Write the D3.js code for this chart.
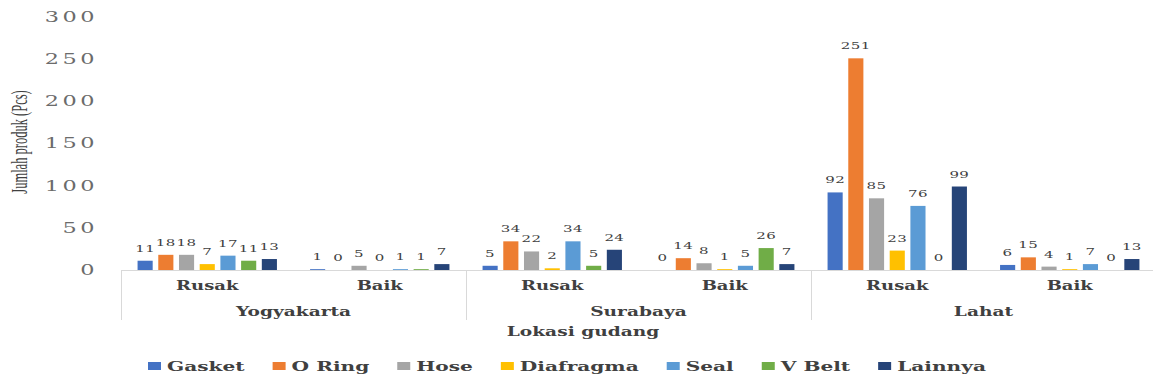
<!DOCTYPE html>
<html>
<head>
<meta charset="utf-8">
<script src="https://cdn.jsdelivr.net/npm/d3@7/dist/d3.min.js"></script>
<style>
  html, body { margin: 0; padding: 0; background: #fff; }
  svg { display: block; }
</style>
</head>
<body>
<svg id="chart" width="1153" height="385"></svg>
<script>
// Warehouse locations and product condition
const cities = ["Yogyakarta", "Surabaya", "Lahat"];
const conditions = ["Rusak", "Baik"];
const seriesNames = ["Gasket", "O Ring", "Hose", "Diafragma", "Seal", "V Belt", "Lainnya"];
const seriesColors = ["#4472C4", "#ED7D31", "#A5A5A5", "#FFC000", "#5B9BD5", "#70AD47", "#264478"];

// Product counts per series, ordered as Yogyakarta Rusak, Yogyakarta Baik, Surabaya Rusak, Surabaya Baik, Lahat Rusak, Lahat Baik
const gasket    = [11, 1, 5, 0, 92, 6];
const oRing     = [18, 0, 34, 14, 251, 15];
const hose      = [18, 5, 22, 8, 85, 4];
const diafragma = [7, 0, 2, 1, 23, 1];
const seal      = [17, 1, 34, 5, 76, 7];
const vBelt     = [11, 1, 5, 26, 0, 0];
const lainnya   = [13, 7, 24, 7, 99, 13];
const seriesValues = [gasket, oRing, hose, diafragma, seal, vBelt, lainnya];

const yTicks = [0, 50, 100, 150, 200, 250, 300];
const yTitle = "Jumlah produk (Pcs)";
const xTitle = "Lokasi gudang";

const serif = "'DejaVu Serif', Georgia, serif";
const times = "'Liberation Serif', 'Times New Roman', serif";

const svg = d3.select("#chart");

const plot = { left: 121, right: 1156, top: 17, bottom: 270 };

const y = d3.scaleLinear().domain([0, 300]).range([plot.bottom, plot.top]);
const xCity = d3.scaleBand().domain(cities).range([plot.left, plot.right]);
const xCond = d3.scaleBand().domain(conditions).range([0, xCity.bandwidth()]);
const xSeries = d3.scaleBand().domain(seriesNames).range([0, xCond.bandwidth()])
  .paddingInner(0.27).paddingOuter(0.8);

// Text is set in a wide, horizontally stretched face
function stretched(sel, x, y, sx, rot) {
  return sel.attr("transform", `translate(${x},${y}) scale(${sx},1)` + (rot ? ` rotate(${rot})` : ""));
}

// Flattened bar records
const bars = [];
cities.forEach((c, ci) => {
  conditions.forEach((k, ki) => {
    seriesNames.forEach((s, si) => {
      bars.push({ city: c, cond: k, series: s, si, value: seriesValues[si][ci * 2 + ki] });
    });
  });
});
const barX = d => xCity(d.city) + xCond(d.cond) + xSeries(d.series);

// Y-axis tick labels (no axis line, no gridlines)
const yAxis = d3.axisLeft(y).tickValues(yTicks).tickSize(0).tickPadding(0);
const yAxisG = svg.append("g").call(yAxis);
yAxisG.select(".domain").remove();
yAxisG.attr("font-family", null).attr("font-size", null);
yAxisG.selectAll(".tick").attr("transform", null);
yAxisG.selectAll(".tick text").each(function (d) {
  const t = d3.select(this);
  t.attr("x", null).attr("dy", null)
   .attr("text-anchor", "end")
   .attr("dominant-baseline", "central")
   .attr("fill", "#6b6b6b")
   .style("font-family", serif)
   .style("font-size", "14px")
   .style("letter-spacing", "2.2px");
  stretched(t, 98, y(d), 1.6);
});

// Bars
svg.append("g").selectAll("rect").data(bars).join("rect")
  .attr("x", barX)
  .attr("width", xSeries.bandwidth())
  .attr("y", d => y(d.value))
  .attr("height", d => y(0) - y(d.value))
  .attr("fill", d => seriesColors[d.si]);

// Data labels
svg.append("g").selectAll("text").data(bars).join("text")
  .each(function (d) {
    stretched(d3.select(this), barX(d) + xSeries.bandwidth() / 2, y(d.value) - 9, 1.5);
  })
  .attr("text-anchor", "middle")
  .attr("fill", "#404040")
  .style("font-family", serif)
  .style("font-size", "10px")
  .style("letter-spacing", "0.3px")
  .text(d => d.value);

// Category axis: baseline and group dividers
const axisG = svg.append("g");
axisG.append("line")
  .attr("x1", plot.left).attr("x2", plot.right)
  .attr("y1", y(0) + 0.5).attr("y2", y(0) + 0.5)
  .attr("stroke", "#d9d9d9");
const dividers = cities.map(c => xCity(c)).concat([xCity(cities[cities.length - 1]) + xCity.bandwidth()]);
axisG.selectAll("line.div").data(dividers).join("line")
  .attr("class", "div")
  .attr("x1", d => Math.round(d) + 0.5).attr("x2", d => Math.round(d) + 0.5)
  .attr("y1", y(0)).attr("y2", 320)
  .attr("stroke", "#d9d9d9");

// Condition labels
const condLabels = [];
cities.forEach(c => conditions.forEach(k => condLabels.push({ c, k })));
axisG.selectAll("text.cond").data(condLabels).join("text")
  .attr("class", "cond")
  .each(function (d) {
    stretched(d3.select(this), xCity(d.c) + xCond(d.k) + xCond.bandwidth() / 2, 289.5, 1.5);
  })
  .attr("text-anchor", "middle")
  .attr("fill", "#404040")
  .style("font-family", serif)
  .style("font-size", "12px")
  .style("font-weight", "bold")
  .text(d => d.k);

// City labels
axisG.selectAll("text.city").data(cities).join("text")
  .attr("class", "city")
  .each(function (d) {
    stretched(d3.select(this), xCity(d) + xCity.bandwidth() / 2, 316, 1.55);
  })
  .attr("text-anchor", "middle")
  .attr("fill", "#404040")
  .style("font-family", serif)
  .style("font-size", "12px")
  .style("font-weight", "bold")
  .text(d => d);

// Axis titles
stretched(svg.append("text"), 583, 335.5, 1.55)
  .attr("text-anchor", "middle")
  .attr("fill", "#404040")
  .style("font-family", serif)
  .style("font-size", "12px")
  .style("font-weight", "bold")
  .text(xTitle);

stretched(svg.append("text"), 27, 142, 1.8, -90)
  .attr("text-anchor", "middle")
  .attr("fill", "#404040")
  .style("font-family", times)
  .style("font-size", "12.5px")
  .text(yTitle);

// Legend
const legendSX = 1.55;
const legend = svg.append("g").attr("transform", "translate(148,366)");
const items = legend.selectAll("g").data(seriesNames).join("g");
items.append("rect")
  .attr("width", 13).attr("height", 8)
  .attr("y", -4)
  .attr("fill", (d, i) => seriesColors[i]);
items.append("text")
  .attr("transform", `translate(19,0) scale(${legendSX},1)`)
  .attr("dominant-baseline", "central")
  .attr("fill", "#404040")
  .style("font-family", serif)
  .style("font-size", "13px")
  .style("font-weight", "bold")
  .text(d => d);
let cursor = 0;
items.each(function () {
  const g = d3.select(this);
  const w = 19 + g.select("text").node().getComputedTextLength() * legendSX;
  g.attr("transform", `translate(${cursor},0)`);
  cursor += w + 28;
});
</script>
</body>
</html>
